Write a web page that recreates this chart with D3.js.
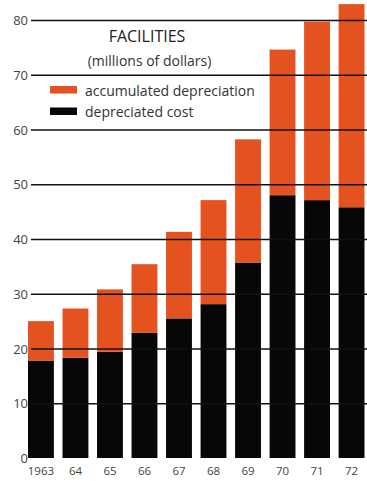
<!DOCTYPE html>
<html>
<head>
<meta charset="utf-8">
<script src="https://cdn.jsdelivr.net/npm/d3@7"></script>
<style>
  html, body { margin: 0; padding: 0; background: #fff; }
  svg { display: block; }
  text { font-family: "Open Sans", Lato, sans-serif; }
</style>
</head>
<body>
<svg id="chart" width="367" height="481"></svg>
<script>
// Facilities, millions of dollars, 1963-72
const years = ["1963", "64", "65", "66", "67", "68", "69", "70", "71", "72"];
const depreciatedCost = [17.8, 18.3, 19.4, 22.9, 25.5, 28.1, 35.7, 48.0, 47.1, 45.8];
const totalCost = [25.0, 27.3, 30.8, 35.4, 41.3, 47.1, 58.2, 74.6, 79.7, 82.9];
const accumulatedDepreciation = totalCost.map((t, i) => +(t - depreciatedCost[i]).toFixed(1));
const yTicks = [0, 10, 20, 30, 40, 50, 60, 70, 80];
const seriesNames = ["accumulated depreciation", "depreciated cost"];

const ORANGE = "#e4521f";
const BLACK = "#070707";
const FONT = "'Open Sans', Lato, sans-serif";

const svg = d3.select("#chart");

const x = d3.scaleBand().domain(years).range([28, 364.5]).paddingInner(0.25).paddingOuter(0);
const y = d3.scaleLinear().domain([0, 80]).range([458, 20]);

const rows = years.map((yr, i) => ({
  year: yr,
  "depreciated cost": depreciatedCost[i],
  "accumulated depreciation": accumulatedDepreciation[i]
}));
const stack = d3.stack().keys(["depreciated cost", "accumulated depreciation"]);
const layers = stack(rows);
const colour = { "depreciated cost": BLACK, "accumulated depreciation": ORANGE };

// stacked bars
svg.append("g").selectAll("g")
  .data(layers).join("g")
  .attr("fill", d => colour[d.key])
  .selectAll("rect")
  .data(d => d).join("rect")
  .attr("x", d => x(d.data.year))
  .attr("width", x.bandwidth())
  .attr("y", d => y(d[1]))
  .attr("height", d => y(d[0]) - y(d[1]));

// horizontal rules drawn over the bars
svg.append("g").selectAll("line")
  .data(yTicks.filter(t => t > 0)).join("line")
  .attr("x1", 31).attr("x2", 367)
  .attr("y1", d => y(d) + 0.5).attr("y2", d => y(d) + 0.5)
  .attr("stroke", "#111").attr("stroke-width", 1.3);

const yAxis = d3.axisLeft(y).tickValues(yTicks).tickSize(0).tickPadding(0);
const gy = svg.append("g").attr("transform", "translate(28,0)").call(yAxis);
gy.select(".domain").remove();
gy.selectAll("text")
  .attr("x", 0).attr("dy", "0.35em")
  .attr("font-size", 13).attr("fill", "#444")
  .style("font-family", FONT);

// year labels
const gx = svg.append("g").attr("transform", "translate(0,466)")
  .call(d3.axisBottom(x).tickSize(0).tickPadding(0));
gx.select(".domain").remove();
gx.selectAll("text")
  .attr("y", 0).attr("dy", "0.75em")
  .attr("font-size", 11.5).attr("fill", "#444")
  .style("font-family", FONT);

// title
svg.append("text").attr("x", 147).attr("y", 42).attr("text-anchor", "middle")
  .attr("font-size", 16).attr("fill", "#222").text("FACILITIES");
svg.append("text").attr("x", 149.5).attr("y", 66).attr("text-anchor", "middle")
  .attr("font-size", 14).attr("fill", "#333").text("(millions of dollars)");

// legend
const legend = svg.append("g").selectAll("g")
  .data(seriesNames).join("g")
  .attr("transform", (d, i) => `translate(50,${86 + i * 21.5})`);
legend.append("rect").attr("width", 27).attr("height", 7.5)
  .attr("fill", d => d === "depreciated cost" ? BLACK : ORANGE);
legend.append("text").attr("x", 35).attr("y", 9.5)
  .attr("font-size", 14).attr("fill", "#333").text(d => d);
</script>
</body>
</html>
